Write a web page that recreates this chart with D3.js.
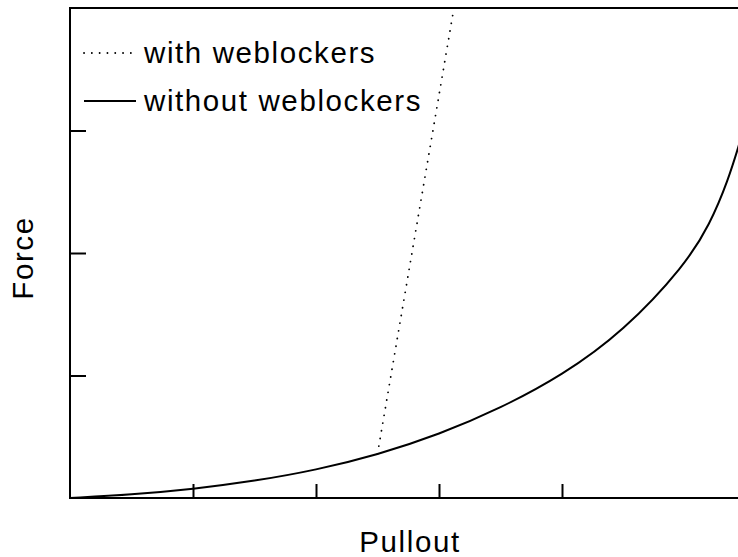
<!DOCTYPE html>
<html>
<head>
<meta charset="utf-8">
<script src="https://cdn.jsdelivr.net/npm/d3@7"></script>
<style>
  html, body { margin: 0; padding: 0; background: #fff; }
  svg { display: block; }
  text { font-family: "Liberation Sans", Arial, Helvetica, sans-serif; fill: #000; }
</style>
</head>
<body>
<svg id="chart" width="738" height="557"></svg>
<script>
// Pull-out force curve without weblockers (arbitrary units)
const pulloutNoBlock = [0, 0.5, 1, 1.5, 2, 2.5, 3, 3.5, 4, 4.5, 5, 5.2, 5.35, 5.45];
const forceNoBlock   = [0, 0.028, 0.073, 0.138, 0.228, 0.353, 0.518, 0.733, 1.0, 1.36, 1.9, 2.23, 2.59, 2.92];

// With weblockers the force rises steeply from the branch point
const pulloutBlock = [2.5, 3.13];
const forceBlock   = [0.36, 4.05];

const xTickValues = [1, 2, 3, 4];
const yTickValues = [1, 2, 3];

const legendLabels = ["with weblockers", "without weblockers"];
const xTitle = "Pullout";
const yTitle = "Force";

const svg = d3.select("#chart");
const plotLeft = 70, plotTop = 8, plotBottom = 498, plotRight = 750;
const fontSize = 29.5, spacing = 1.6;

const x = d3.scaleLinear().domain([0, 1]).range([plotLeft, plotLeft + 123]);
const y = d3.scaleLinear().domain([0, 4]).range([plotBottom, plotTop]);

// clip region for the data lines
svg.append("defs").append("clipPath").attr("id", "plotClip")
  .append("rect").attr("x", plotLeft).attr("y", plotTop)
  .attr("width", plotRight - plotLeft).attr("height", plotBottom - plotTop);

const plot = svg.append("g").attr("clip-path", "url(#plotClip)");

plot.append("path")
  .datum(d3.zip(pulloutNoBlock, forceNoBlock))
  .attr("d", d3.line().x(d => x(d[0])).y(d => y(d[1])).curve(d3.curveBasis))
  .attr("fill", "none").attr("stroke", "#000").attr("stroke-width", 2);

plot.append("path")
  .datum(d3.zip(pulloutBlock, forceBlock))
  .attr("d", d3.line().x(d => x(d[0])).y(d => y(d[1])))
  .attr("fill", "none").attr("stroke", "#000").attr("stroke-width", 1.8)
  .attr("stroke-linecap", "round")
  .attr("stroke-dasharray", "0.1,7.7");

// inward ticks
const xAxis = d3.axisBottom(x).tickValues(xTickValues).tickSize(-14).tickFormat("");
const gx = svg.append("g").attr("transform", `translate(0,${plotBottom})`).call(xAxis);
const yAxis = d3.axisLeft(y).tickValues(yTickValues).tickSize(-16).tickFormat("");
const gy = svg.append("g").attr("transform", `translate(${plotLeft},0)`).call(yAxis);
[gx, gy].forEach(g => {
  g.select(".domain").remove();
  g.selectAll(".tick line").attr("stroke", "#000").attr("stroke-width", 2);
});

// frame (right side runs past the visible area)
svg.append("rect")
  .attr("x", plotLeft).attr("y", plotTop)
  .attr("width", plotRight - plotLeft).attr("height", plotBottom - plotTop)
  .attr("fill", "none").attr("stroke", "#000").attr("stroke-width", 2);

// legend
const legend = svg.append("g");
const legendRows = [
  { label: legendLabels[0], dash: "0.1,7.7", y: 53, x2: 131 },
  { label: legendLabels[1], dash: null, y: 101, x2: 136 }
];
legendRows.forEach(r => {
  legend.append("line")
    .attr("x1", 84).attr("x2", r.x2).attr("y1", r.y).attr("y2", r.y)
    .attr("stroke", "#000").attr("stroke-width", r.dash ? 1.8 : 2)
    .attr("stroke-linecap", r.dash ? "round" : "butt")
    .attr("stroke-dasharray", r.dash);
  legend.append("text")
    .attr("x", 144).attr("y", r.y + 10)
    .attr("font-size", fontSize).attr("letter-spacing", spacing)
    .text(r.label);
});

// axis titles
svg.append("text")
  .attr("x", 410).attr("y", 552)
  .attr("text-anchor", "middle")
  .attr("font-size", fontSize).attr("letter-spacing", spacing)
  .text(xTitle);

svg.append("text")
  .attr("transform", "translate(33,258) rotate(-90)")
  .attr("text-anchor", "middle")
  .attr("font-size", fontSize).attr("letter-spacing", spacing)
  .text(yTitle);
</script>
</body>
</html>
